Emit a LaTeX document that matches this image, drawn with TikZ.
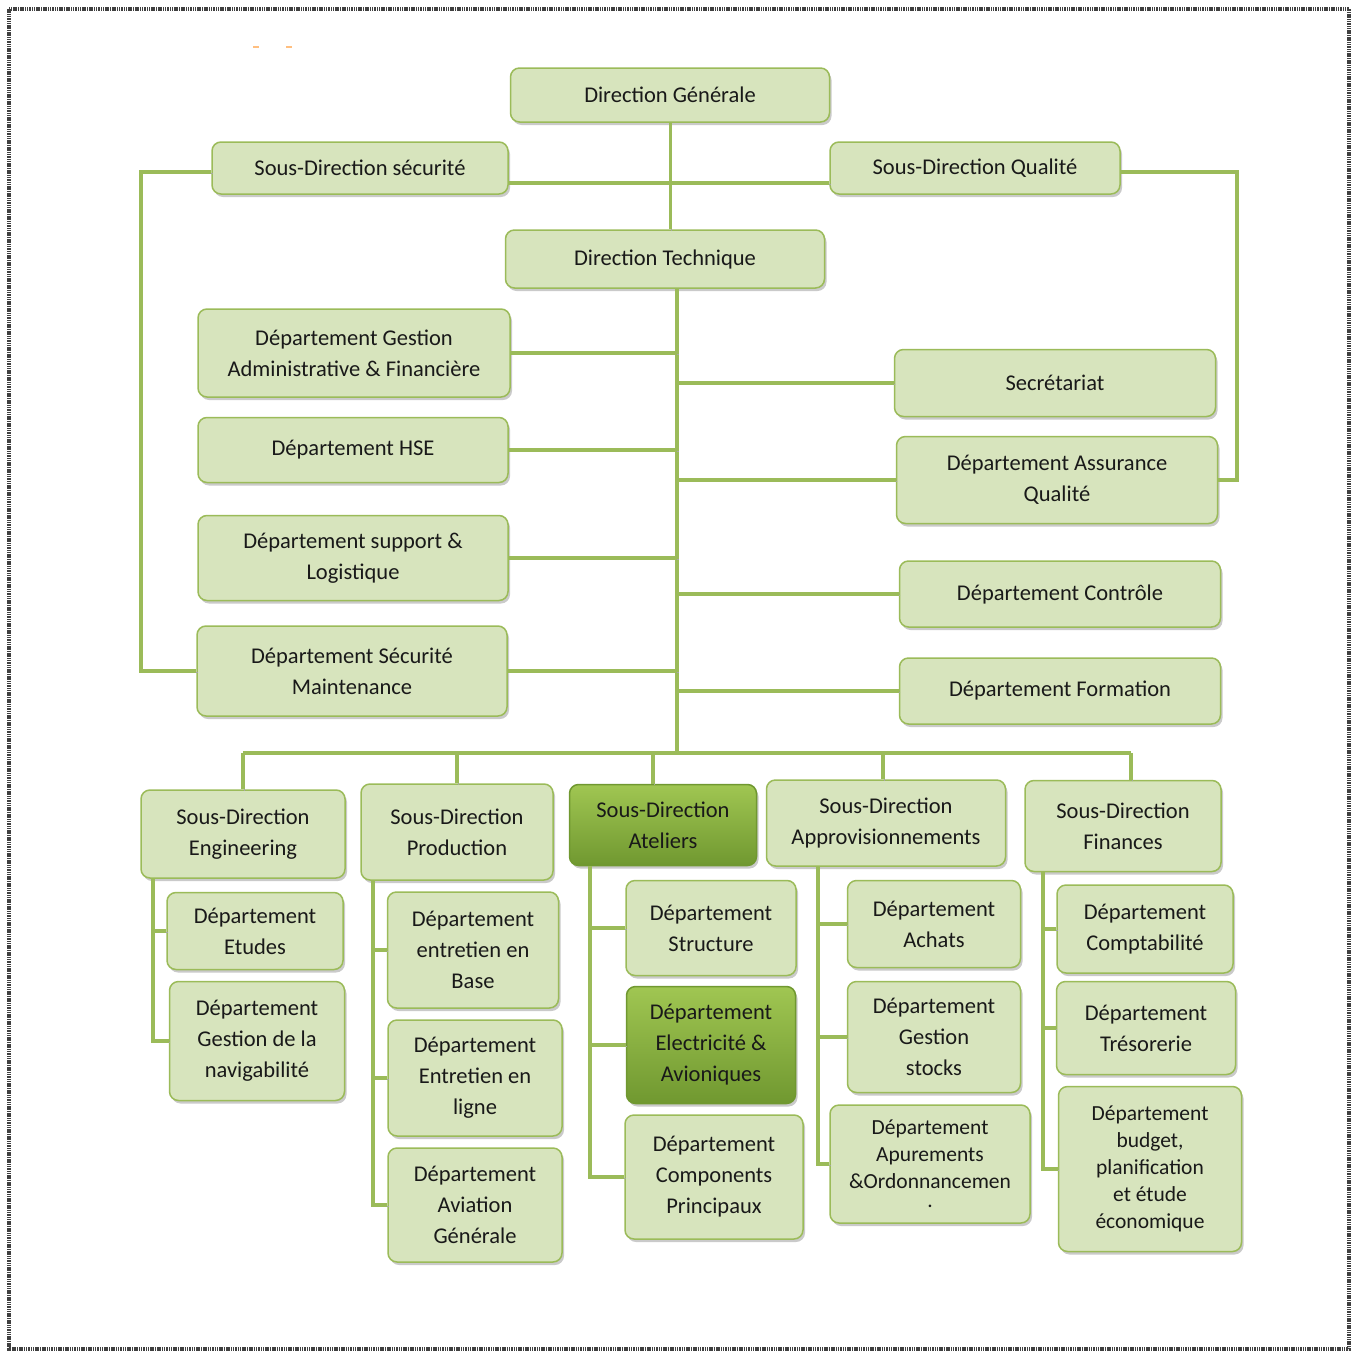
\documentclass[tikz,border=0pt]{standalone}
\usepackage{fontspec}
\setmainfont{Carlito}
\usetikzlibrary{positioning,shadows,calc}
\definecolor{boxfill}{RGB}{215,228,189}
\definecolor{boxline}{RGB}{155,187,89}
\definecolor{hotdark}{RGB}{112,152,48}
\definecolor{hotlight}{RGB}{160,198,82}
\begin{document}
\begin{tikzpicture}[x=1pt,y=-1pt,
  box/.style={rectangle, rounded corners=9pt, draw=boxline, line width=1.5pt, fill=boxfill, align=center, inner sep=0pt, font=\fontsize{22.5}{31}\selectfont, text=black!90, drop shadow={shadow xshift=2pt, shadow yshift=-3pt, opacity=0.35, fill=black!60}},
  hot/.style={box, top color=hotlight, bottom color=hotdark, draw=hotdark},
  tight/.style={font=\fontsize{21.5}{27}\selectfont},
  link/.style={draw=boxline, line width=4.5pt, preaction={draw=black!35, transform canvas={shift={(1.5pt,-1.5pt)}}}},
  thin link/.style={link, line width=3pt},
  sub link/.style={link, line width=4pt}
]
  \useasboundingbox (0,0) rectangle (1361,1352);
  \draw[black!75, line width=3.5pt, dash pattern=on 1.5pt off 0.8pt] (9,9) rectangle (1349,1349);
  \fill[orange!50] (253,46) rectangle (259,48);
  \fill[orange!50] (286,46) rectangle (292,48);

  % top levels
  \node[box, minimum width=319, minimum height=54] (dg) at (670,95) {Direction Générale};
  \node[box, minimum width=296, minimum height=52] (sdsec) at (360,168) {Sous-Direction sécurité};
  \node[box, minimum width=290, minimum height=52] (sdqual) at (975,168) {Sous-Direction Qualité};
  \node[box, minimum width=319, minimum height=58] (dt) at (665,259) {Direction Technique};

  % departments of the Direction Technique
  \node[box, minimum width=312, minimum height=88] (dgaf) at (354,353) {Département Gestion\\Administrative \& Financière};
  \node[box, minimum width=310, minimum height=65] (dhse) at (353,450) {Département HSE};
  \node[box, minimum width=310, minimum height=85] (dsl) at (353,558) {Département support \&\\Logistique};
  \node[box, minimum width=310, minimum height=90] (dsm) at (352,671) {Département Sécurité\\Maintenance};
  \node[box, minimum width=321, minimum height=67] (secr) at (1055,383) {Secrétariat};
  \node[box, minimum width=321, minimum height=87] (daq) at (1057,480) {Département Assurance\\Qualité};
  \node[box, minimum width=321, minimum height=66] (dctrl) at (1060,594) {Département Contrôle};
  \node[box, minimum width=321, minimum height=66] (dform) at (1060,691) {Département Formation};

  % sous-directions
  \node[box, minimum width=204, minimum height=88] (sdeng) at (243,834) {Sous-Direction\\Engineering};
  \node[box, minimum width=192, minimum height=96] (sdprod) at (457,832) {Sous-Direction\\Production};
  \node[hot, minimum width=187, minimum height=81] (sdate) at (663,825) {Sous-Direction\\Ateliers};
  \node[box, minimum width=239, minimum height=86] (sdappro) at (886,823) {Sous-Direction\\Approvisionnements};
  \node[box, minimum width=196, minimum height=91] (sdfin) at (1123,826) {Sous-Direction\\Finances};

  % their departments
  \node[box, minimum width=176, minimum height=77] (detudes) at (255,931) {Département\\Etudes};
  \node[box, minimum width=175, minimum height=119] (dgn) at (257,1041) {Département\\Gestion de la\\navigabilité};
  \node[box, minimum width=171, minimum height=116] (deb) at (473,950) {Département\\entretien en\\Base};
  \node[box, minimum width=174, minimum height=116] (del) at (475,1078) {Département\\Entretien en\\ligne};
  \node[box, minimum width=174, minimum height=114] (dag) at (475,1205) {Département\\Aviation\\Générale};
  \node[box, minimum width=170, minimum height=95] (dstruct) at (711,928) {Département\\Structure};
  \node[hot, minimum width=169, minimum height=117] (delec) at (711,1045) {Département\\Electricité \&\\Avioniques};
  \node[box, minimum width=178, minimum height=124] (dcomp) at (714,1177) {Département\\Components\\Principaux};
  \node[box, minimum width=173, minimum height=87] (dachats) at (934,924) {Département\\Achats};
  \node[box, minimum width=173, minimum height=111] (dgs) at (934,1037) {Département\\Gestion\\stocks};
  \node[box, tight, minimum width=200, minimum height=118] (dao) at (930,1164) {Département\\Apurements\\\&Ordonnancemen\\[-8pt].};
  \node[box, minimum width=176, minimum height=88] (dcompta) at (1145,929) {Département\\Comptabilité};
  \node[box, minimum width=179, minimum height=93] (dtreso) at (1146,1028) {Département\\Trésorerie};
  \node[box, tight, minimum width=183, minimum height=165] (dbudget) at (1150,1169) {Département\\budget,\\planification\\et étude\\économique};

  % connectors
  \coordinate (spineTop) at (677,288);
  \coordinate (spineEnd) at (677,753);
  \coordinate (secTurn) at (141,671);
  \coordinate (qualTurn) at (1237,480);
  \draw[thin link] (dg.south) -- (dg.south |- dt.north);
  \draw[link] ([yshift=-15pt]sdsec.east) -- ([yshift=-15pt]sdqual.west);
  \draw[link] ([yshift=-4pt]sdsec.west) -| (secTurn) -- (dsm.west);
  \draw[link] ([yshift=-4pt]sdqual.east) -| (qualTurn) -- (daq.east);
  \draw[link] (spineTop) -- (spineEnd);
  \foreach \n in {dgaf,dhse,dsl,dsm}
    \draw[link] (\n.east) -- (\n.east -| spineEnd);
  \foreach \n in {secr,daq,dctrl,dform}
    \draw[link] (\n.west) -- (\n.west -| spineEnd);
  \draw[link] (sdeng.north |- spineEnd) -- ([xshift=8pt]sdfin.north |- spineEnd);
  \foreach \n/\dx in {sdeng/0,sdprod/0,sdate/-10,sdappro/-3,sdfin/8}
    \draw[link] ([xshift=\dx pt]\n.north) -- ([xshift=\dx pt]\n.north |- spineEnd);

  \coordinate (engT) at (153,878);
  \coordinate (prodT) at (373,880);
  \coordinate (ateT) at (590,866);
  \coordinate (approT) at (818,866);
  \coordinate (finT) at (1043,872);
  \foreach \n in {detudes,dgn} \draw[sub link] (engT) |- (\n.west);
  \foreach \n in {deb,del,dag} \draw[sub link] (prodT) |- (\n.west);
  \foreach \n in {dstruct,delec,dcomp} \draw[sub link] (ateT) |- (\n.west);
  \foreach \n in {dachats,dgs,dao} \draw[sub link] (approT) |- (\n.west);
  \foreach \n in {dcompta,dtreso,dbudget} \draw[sub link] (finT) |- (\n.west);
\end{tikzpicture}
\end{document}
